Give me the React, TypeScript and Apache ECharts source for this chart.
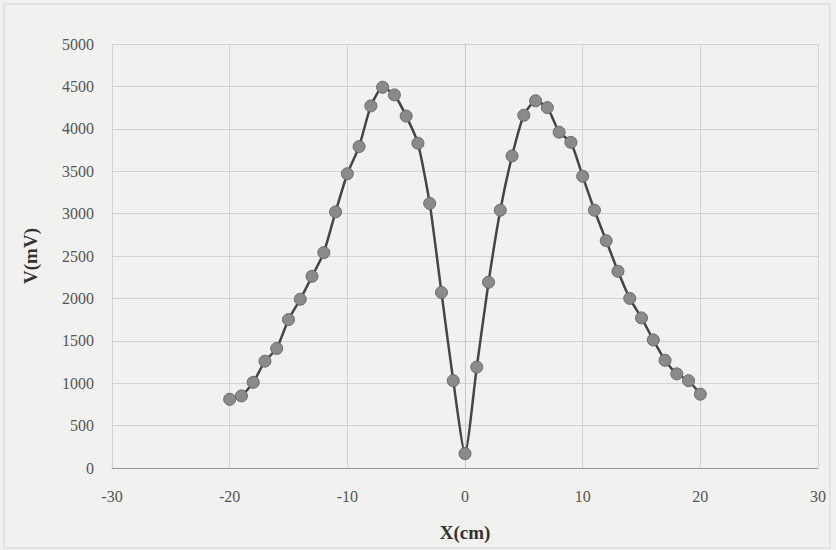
import React, { useEffect, useRef } from "react";
import * as echarts from "echarts";

const xValues = [-20, -19, -18, -17, -16, -15, -14, -13, -12, -11, -10, -9, -8, -7, -6, -5, -4, -3, -2, -1, 0, 1, 2, 3, 4, 5, 6, 7, 8, 9, 10, 11, 12, 13, 14, 15, 16, 17, 18, 19, 20];
const vValues = [810, 850, 1010, 1260, 1410, 1750, 1990, 2260, 2540, 3020, 3470, 3790, 4270, 4490, 4400, 4150, 3830, 3120, 2070, 1030, 170, 1190, 2190, 3040, 3680, 4160, 4330, 4250, 3960, 3840, 3440, 3040, 2680, 2320, 2000, 1770, 1510, 1270, 1110, 1030, 870];

const xTitle = "X(cm)";
const yTitle = "V(mV)";

export default function App() {
  const ref = useRef<HTMLDivElement>(null);
  useEffect(() => {
    if (!ref.current) return;
    const chart = echarts.init(ref.current, null, { renderer: "svg" });
    const data = xValues.map((x, i) => [x, vValues[i]]);
    const font = "'Liberation Serif', 'DejaVu Serif', serif";
    chart.setOption({
      animation: false,
      backgroundColor: "#f1f1ef",
      graphic: [
        {
          type: "rect",
          shape: { x: 4, y: 4, width: 826, height: 544 },
          style: { fill: "none", stroke: "#d4d4d2", lineWidth: 1 },
          silent: true,
        },
      ],
      grid: { left: 112, right: 18, top: 44, bottom: 82, containLabel: false },
      xAxis: {
        type: "value",
        min: -30,
        max: 30,
        interval: 10,
        name: xTitle,
        nameLocation: "middle",
        nameGap: 55,
        nameTextStyle: { fontFamily: font, fontSize: 19, fontWeight: "bold", color: "#333" },
        axisLine: { show: true, lineStyle: { color: "#9a9a9a", width: 1 } },
        axisTick: { show: false },
        axisLabel: { fontFamily: font, fontSize: 16, color: "#555", margin: 20, formatter: (v: number) => String(v) },
        splitLine: { show: true, lineStyle: { color: "#d2d2d2", width: 1 } },
      },
      yAxis: {
        type: "value",
        min: 0,
        max: 5000,
        interval: 500,
        name: yTitle,
        nameLocation: "middle",
        nameGap: 72,
        nameRotate: 90,
        nameTextStyle: { fontFamily: font, fontSize: 19, fontWeight: "bold", color: "#333" },
        axisLine: { show: true, lineStyle: { color: "#c8c8c8", width: 1 } },
        axisTick: { show: false },
        axisLabel: { fontFamily: font, fontSize: 16, color: "#555", margin: 18, formatter: (v: number) => String(v) },
        splitLine: { show: true, lineStyle: { color: "#d2d2d2", width: 1 } },
      },
      series: [
        {
          type: "line",
          data,
          smooth: 0.2,
          symbol: "circle",
          symbolSize: 12,
          lineStyle: { color: "#454545", width: 2.5 },
          itemStyle: { color: "#8a8a8a", borderColor: "#6a6a6a", borderWidth: 1 },
        },
      ],
    });
    return () => chart.dispose();
  }, []);
  return <div ref={ref} style={{ position: "fixed", left: 0, top: 0, width: 836, height: 550 }} />;
}
